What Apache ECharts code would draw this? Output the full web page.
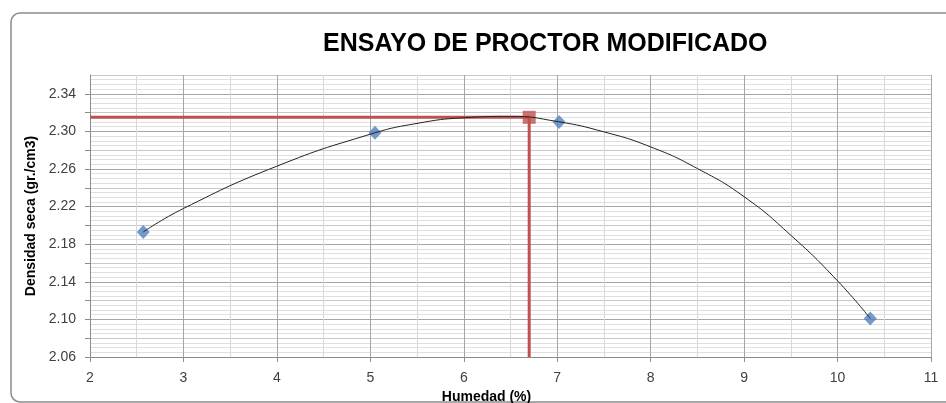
<!DOCTYPE html>
<html>
<head>
<meta charset="utf-8">
<script src="https://cdn.jsdelivr.net/npm/echarts@6/dist/echarts.min.js"></script>
<style>
  html, body { margin: 0; padding: 0; background: #fff; }
  #chart { width: 946px; height: 403px; }
</style>
</head>
<body>
<div id="chart"></div>
<script>
// ensayo values (humedad %, densidad seca)
const humedad = [2.57, 5.05, 7.02, 10.35];
const densidad = [2.193, 2.2985, 2.310, 2.101];

// trendline
const trendX = [2.57, 3, 4, 5, 5.5, 6, 6.5, 7, 7.5, 8, 8.5, 9, 9.5, 10, 10.35];
const trendY = [2.193, 2.218, 2.263, 2.297, 2.3085, 2.3145, 2.316, 2.3105, 2.2995, 2.2835, 2.2605, 2.2305, 2.1895, 2.141, 2.101];

// optimo
const optHumedad = 6.7;
const optDensidad = 2.315;

const yLabels = ["2.06", "2.10", "2.14", "2.18", "2.22", "2.26", "2.30", "2.34"];

const chart = echarts.init(document.getElementById("chart"), null, { renderer: "canvas" });

const font = "Liberation Sans";
const textColor = "#404040";

const option = {
  backgroundColor: "#fff",
  animation: false,
  textStyle: { fontFamily: font },
  graphic: [
    {
      type: "rect",
      shape: { x: 11, y: 13, width: 1000, height: 389, r: 9 },
      style: { fill: "none", stroke: "#8c8c8c", lineWidth: 1.5 },
      silent: true,
      z: -10
    }
  ],
  title: {
    text: "ENSAYO DE PROCTOR MODIFICADO",
    left: 323,
    top: 32,
    padding: 0,
    textStyle: { fontFamily: font, fontWeight: "bold", fontSize: 25, color: "#000" }
  },
  grid: { left: 90, right: 15, top: 75, bottom: 46, outerBoundsMode: "none", containLabel: false },
  xAxis: {
    type: "value",
    min: 2,
    max: 11,
    interval: 1,
    name: "Humedad (%)",
    nameLocation: "middle",
    nameGap: 25,
    nameTextStyle: { fontFamily: font, fontWeight: "bold", fontSize: 14, color: "#000", padding: [0, 48, 0, 0] },
    axisLine: { show: true, lineStyle: { color: "#8c8c8c", width: 1 } },
    axisTick: { show: true, length: 5, lineStyle: { color: "#8c8c8c" } },
    axisLabel: { fontSize: 14, color: textColor, margin: 14 },
    splitLine: { show: true, lineStyle: { color: "#a6a6a6", width: 1 } },
    minorTick: { show: false, splitNumber: 2 },
    minorSplitLine: { show: true, lineStyle: { color: "#d9d9d9", width: 1 } }
  },
  yAxis: {
    type: "value",
    min: 2.06,
    max: 2.36,
    interval: 0.02,
    name: "Densidad seca (gr./cm3)",
    nameLocation: "middle",
    nameGap: 52,
    nameRotate: 90,
    nameTextStyle: { fontFamily: font, fontWeight: "bold", fontSize: 14, color: "#000" },
    axisLine: { show: true, lineStyle: { color: "#8c8c8c", width: 1 } },
    axisTick: { show: true, length: 5, lineStyle: { color: "#8c8c8c" } },
    axisLabel: {
      fontSize: 14,
      color: textColor,
      margin: 14,
      showMaxLabel: false,
      formatter: function (v) {
        const s = v.toFixed(2);
        return yLabels.indexOf(s) >= 0 ? s : "";
      }
    },
    splitLine: { show: true, lineStyle: { color: ["#a6a6a6", "#c8c8c8"], width: 1 } },
    minorTick: { show: false, splitNumber: 4 },
    minorSplitLine: { show: true, lineStyle: { color: "#e0e0e0", width: 1 } }
  },
  series: [
    {
      name: "optimo",
      type: "line",
      data: [[2, optDensidad], [optHumedad, optDensidad], [optHumedad, 2.06]],
      symbol: "none",
      lineStyle: { color: "#c0504d", width: 3 },
      z: 2
    },
    {
      name: "punto optimo",
      type: "scatter",
      data: [[optHumedad, optDensidad]],
      symbol: "rect",
      symbolSize: 13,
      itemStyle: { color: "#c0504d" },
      z: 3
    },
    {
      name: "ensayo",
      type: "scatter",
      data: humedad.map((h, i) => [h, densidad[i]]),
      symbol: "diamond",
      symbolSize: [13, 14],
      itemStyle: { color: "#4f81bd" },
      z: 4
    },
    {
      name: "tendencia",
      type: "line",
      data: trendX.map((h, i) => [h, trendY[i]]),
      smooth: true,
      symbol: "none",
      lineStyle: { color: "#222", width: 1 },
      z: 5
    }
  ]
};

chart.setOption(option);
</script>
</body>
</html>
